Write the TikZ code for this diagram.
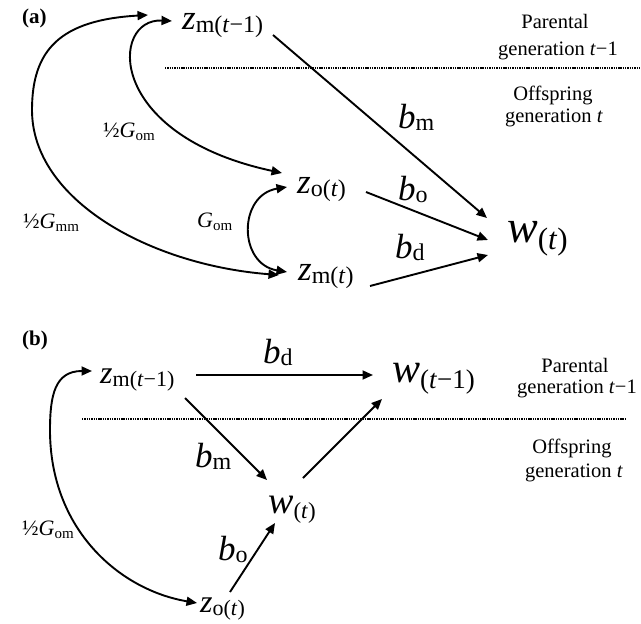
\documentclass[tikz,border=0pt]{standalone}
\usepackage{fontspec}
\setmainfont{Liberation Serif}
\usetikzlibrary{arrows.meta}
\newcommand{\zvar}[3]{{\fontsize{#1}{#1}\selectfont\itshape z}\raisebox{-3pt}{\fontsize{#2}{#2}\selectfont #3}}
\newcommand{\wvar}[4]{{\fontsize{#1}{#1}\selectfont\itshape w}\raisebox{-#3}{\fontsize{#2}{#2}\selectfont #4}}
\newcommand{\bvar}[1]{{\fontsize{35}{35}\selectfont\itshape b}\raisebox{-2pt}{\fontsize{24}{24}\selectfont #1}}
\newcommand{\gvar}[2]{{\fontsize{22}{22}\selectfont #1\textit{G}}\raisebox{-3pt}{\fontsize{15}{15}\selectfont #2}}
\tikzset{
  lbl/.style={inner sep=0pt, anchor=base west},
  gen/.style={inner sep=0pt, anchor=base, font=\fontsize{20.5}{24}\selectfont},
  conn/.style={line width=1.9pt, -{Triangle[length=10.5pt,width=9pt]}},
  dconn/.style={line width=1.9pt, {Triangle[length=10.5pt,width=9pt]}-{Triangle[length=10.5pt,width=9pt]}},
  divider/.style={line width=1.8pt, dash pattern=on 1.4pt off 0.9pt},
  panel/.style={inner sep=0pt, anchor=base west, font=\fontsize{21}{21}\selectfont\bfseries},
}
\begin{document}
\begin{tikzpicture}[x=1pt,y=-1pt]
\useasboundingbox (0,0) rectangle (641,624);

% ---------------- panel (a) ----------------
\node[panel] (pa) at (22,23) {(a)};
\node[lbl] (zm1a) at (182,29) {\zvar{35}{24}{m(\textit{t}−1)}};
\node[lbl] (zoa) at (297,193) {\zvar{35}{24}{o(\textit{t})}};
\node[lbl] (zma) at (298,280) {\zvar{35}{24}{m(\textit{t})}};
\node[lbl] (wa) at (507,242) {\wvar{46}{31}{7pt}{(\textit{t})}};

\node[gen] (pa1) at (555,28) {Parental};
\node[gen] (pa2) at (558,55) {generation \textit{t}−1};
\node[gen] (oa1) at (553,100) {Offspring};
\node[gen] (oa2) at (554,122) {generation \textit{t}};
\draw[divider] (165,68) -- (641,68);

\node[lbl] (bma) at (398,128) {\bvar{m}};
\node[lbl] (boa) at (398,200) {\bvar{o}};
\node[lbl] (bda) at (395,258) {\bvar{d}};
\node[lbl] (g1a) at (103,137) {\gvar{½}{om}};
\node[lbl] (g2a) at (23,228) {\gvar{½}{mm}};
\node[lbl] (g3a) at (197,227) {\gvar{}{om}};

\draw[conn] ([shift={(91,6)}]zm1a.base west) -- ([shift={(-20,-24)}]wa.base west);
\draw[conn] ([shift={(69,-1)}]zoa.base west) -- ([shift={(-19,-2)}]wa.base west);
\draw[conn] ([shift={(72,6)}]zma.base west) -- ([shift={(-19,13)}]wa.base west);
\draw[dconn] ([shift={(-10,-8)}]zm1a.base west) .. controls (110,18) and (105,135) .. ([shift={(-15,-20)}]zoa.base west);
\draw[dconn] ([shift={(-34,-14)}]zm1a.base west) .. controls (60,20) and (32,50) .. (32,110) .. controls (32,200) and (150,265) .. ([shift={(-19,-5)}]zma.base west);
\draw[dconn] ([shift={(-10,-6)}]zoa.base west) .. controls (238,195) and (238,264) .. ([shift={(-11,-8)}]zma.base west);

% ---------------- panel (b) ----------------
\node[panel] (pb) at (22,345) {(b)};
\node[lbl] (zm1b) at (100,383) {\zvar{32}{22}{m(\textit{t}−1)}};
\node[lbl] (wb1) at (392,382) {\wvar{42}{27}{6pt}{(\textit{t}−1)}};
\node[lbl] (wbt) at (268,513) {\wvar{38}{23}{5pt}{(\textit{t})}};
\node[lbl] (zob) at (200,612) {\zvar{32}{22}{o(\textit{t})}};

\node[gen] (pb1) at (575,372) {Parental};
\node[gen] (pb2) at (577,393) {generation \textit{t}−1};
\node[gen] (ob1) at (572,453) {Offspring};
\node[gen] (ob2) at (574,477) {generation \textit{t}};
\draw[divider] (82,419) -- (627,419);

\node[lbl] (bdb) at (263,363) {\bvar{d}};
\node[lbl] (bmb) at (195,467) {\bvar{m}};
\node[lbl] (bob) at (218,560) {\bvar{o}};
\node[lbl] (g1b) at (22,535) {\gvar{½}{om}};

\draw[conn] ([shift={(96,-8)}]zm1b.base west) -- ([shift={(-19,-7)}]wb1.base west);
\draw[conn] ([shift={(85,15)}]zm1b.base west) -- ([shift={(-1,-33)}]wbt.base west);
\draw[conn] ([shift={(35,-35)}]wbt.base west) -- ([shift={(-10,17)}]wb1.base west);
\draw[conn] ([shift={(30,-20)}]zob.base west) -- ([shift={(7,10)}]wbt.base west);
\draw[dconn] ([shift={(-8,-12)}]zm1b.base west) .. controls (55,371) and (50,395) .. (50,430) .. controls (50,530) and (120,590) .. ([shift={(-3,-9)}]zob.base west);
\end{tikzpicture}
\end{document}
